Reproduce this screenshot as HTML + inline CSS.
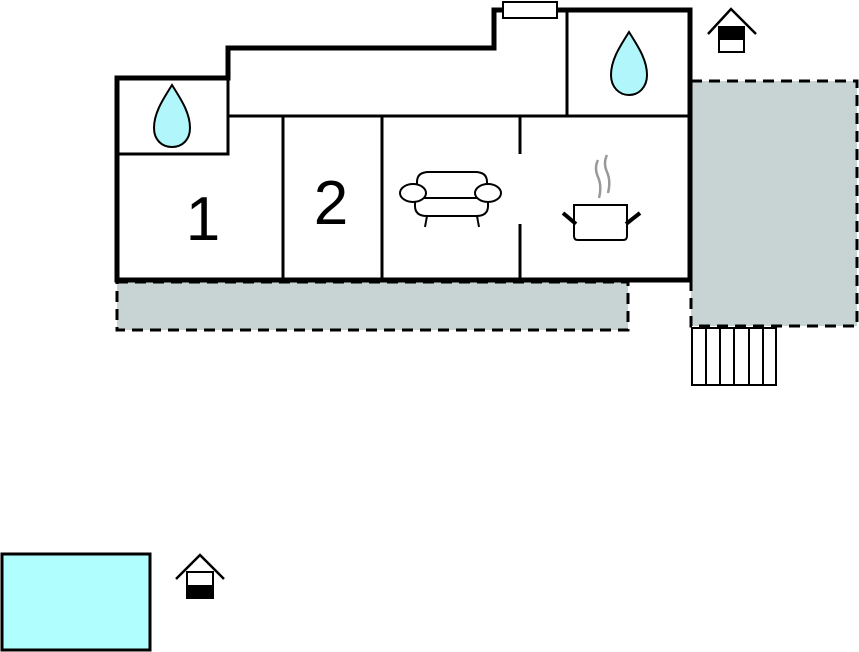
<!DOCTYPE html>
<html><head><style>html,body{margin:0;padding:0;background:#fff;width:859px;height:652px;overflow:hidden}</style></head>
<body>
<svg width="859" height="652" viewBox="0 0 859 652" xmlns="http://www.w3.org/2000/svg">
<rect x="117" y="282" width="511" height="48" fill="#c8d4d4" stroke="#000" stroke-width="3" stroke-dasharray="11,7"/>
<rect x="691" y="81" width="166" height="245" fill="#c8d4d4" stroke="#000" stroke-width="3" stroke-dasharray="11,7"/>
<g fill="none" stroke="#000" stroke-width="2">
<rect x="692" y="328" width="84" height="57"/>
<line x1="706" y1="328" x2="706" y2="385"/><line x1="720" y1="328" x2="720" y2="385"/>
<line x1="734" y1="328" x2="734" y2="385"/><line x1="749" y1="328" x2="749" y2="385"/>
<line x1="763" y1="328" x2="763" y2="385"/>
</g>
<path d="M117 78 H228 V48 H494 V10 H690 V280 H117 Z" fill="#fff"/>
<g stroke="#000" stroke-width="3" fill="none">
<line x1="228" y1="116" x2="690" y2="116"/>
<polyline points="117,154 228,154 228,78"/>
<line x1="283" y1="116" x2="283" y2="280"/>
<line x1="382" y1="116" x2="382" y2="280"/>
<line x1="520" y1="116" x2="520" y2="154"/>
<line x1="520" y1="224" x2="520" y2="280"/>
<line x1="567" y1="10" x2="567" y2="116"/>
</g>
<path d="M117 78 H228 V48 H494 V10 H690 V280 H117 Z" fill="none" stroke="#000" stroke-width="5"/>
<rect x="503" y="2" width="54" height="16" fill="#fff" stroke="#000" stroke-width="2"/>
<path d="M172 85 C164 98 154 112 154 128 C154 140 162 147 172 147 C182 147 190 140 190 128 C190 112 180 98 172 85 Z" fill="#b0f6fa" stroke="#000" stroke-width="2"/>
<path d="M629 32 C621 45 611 59 611 75 C611 87 619 95 629 95 C639 95 647 87 647 75 C647 59 637 45 629 32 Z" fill="#b0f6fa" stroke="#000" stroke-width="2"/>
<text x="203" y="240" font-family="Liberation Sans, sans-serif" font-size="62" text-anchor="middle">1</text>
<text x="331" y="224" font-family="Liberation Sans, sans-serif" font-size="62" text-anchor="middle">2</text>
<g stroke="#000" stroke-width="2" fill="#fff">
<path d="M417 198 V182 Q417 172 429 172 H475 Q487 172 487 182 V198"/>
<path d="M415 198 V206 Q415 216 427 216 H476 Q488 216 488 206 V198 Z"/>
<line x1="427" y1="216" x2="425" y2="227"/><line x1="477" y1="216" x2="479" y2="227"/>
<ellipse cx="413" cy="193" rx="13" ry="9"/><ellipse cx="488" cy="193" rx="13" ry="9"/>
</g>
<g stroke="#000" fill="#fff">
<path d="M574 205 H627 V236 Q627 240 623 240 H578 Q574 240 574 236 Z" stroke-width="2"/>
<line x1="563" y1="213" x2="576" y2="224" stroke-width="4"/>
<line x1="640" y1="213" x2="626" y2="224" stroke-width="4"/>
</g>
<g stroke="#999" stroke-width="2.5" fill="none">
<path d="M598 160 Q594 168 598 177 Q602 186 599 198"/>
<path d="M607 155 Q603 163 607 172 Q611 181 608 193"/>
</g>
<g stroke="#000" stroke-width="2.5" fill="none">
<polyline points="708,34 731,9 756,34"/>
<rect x="719" y="27" width="25" height="25" fill="#fff" stroke-width="2"/>
<rect x="719" y="27" width="25" height="12" fill="#000" stroke-width="2"/>
</g>
<rect x="2" y="554" width="148" height="96" fill="#b0fefe" stroke="#000" stroke-width="3"/>
<g stroke="#000" stroke-width="2.5" fill="none">
<polyline points="176,579 200,555 224,579"/>
<rect x="187" y="572" width="26" height="26" fill="#fff" stroke-width="2"/>
<rect x="187" y="586" width="26" height="12" fill="#000" stroke-width="2"/>
</g>
</svg>
</body></html>
